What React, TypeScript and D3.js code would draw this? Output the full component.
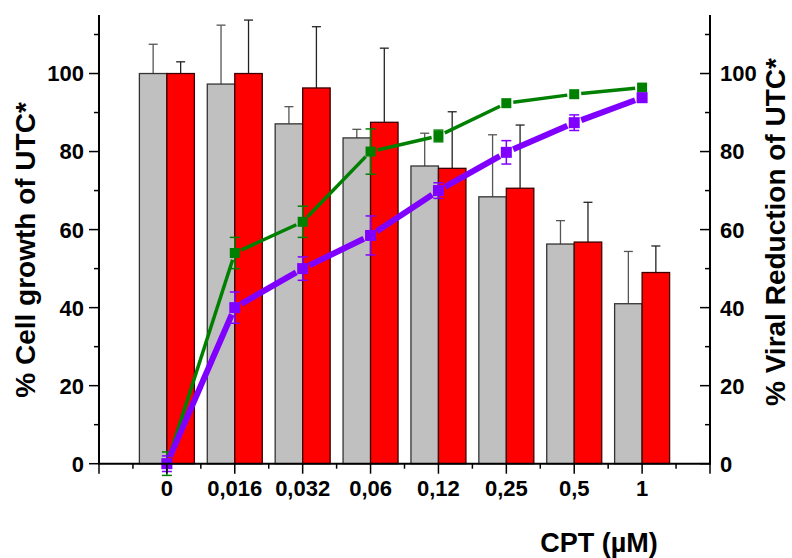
import React from "react";
import * as d3 from "d3";

const categories = ["0", "0,016", "0,032", "0,06", "0,12", "0,25", "0,5", "1"];
const cellGrey = [100, 97.3, 87.1, 83.5, 76.3, 68.4, 56.3, 41];
const cellGreyErr = [7.5, 15.1, 4.4, 2.2, 8.4, 15.9, 6.0, 13.4];
const cellRed = [100, 100, 96.3, 87.5, 75.7, 70.6, 56.8, 49];
const cellRedErr = [3, 13.7, 15.7, 19, 14.5, 16.2, 10.2, 6.8];
const viralGreen = [0, 54, 62, 80, 84, 92.4, 94.7, 96.4];
const viralGreenErr = [3, 4, 4, 5.8, 1.5, 0, 0, 0];
const viralPurple = [0, 40, 50, 58.5, 70, 79.8, 87.4, 93.8];
const viralPurpleErr = [2, 4, 3, 5, 2, 3, 2, 0];
const yTicks = [0, 20, 40, 60, 80, 100];
const yMinorTicks = [10, 30, 50, 70, 90, 110];

const W = 792;
const H = 558;
const FONT = "Liberation Sans, Arial, Helvetica, sans-serif";

export default function App() {
  const x = d3.scaleLinear().domain([-1, 8]).range([99, 710]);
  const y = d3.scaleLinear().domain([0, 115]).range([463.7, 15]);
  const yR = d3.scaleLinear().domain([0, 115]).range([463.7, 15]);
  const unit = x(1) - x(0);
  const bw = unit * 0.405;
  const capW = 9;

  const xMajor = d3.range(-1, 9);
  const xMinor = d3.range(-0.5, 8, 1);

  const lineSeg = (vals: number[], half: number) => {
    const segs: { x1: number; y1: number; x2: number; y2: number }[] = [];
    for (let i = 0; i < vals.length - 1; i++) {
      const ax = x(i), ay = yR(vals[i]), bx = x(i + 1), by = yR(vals[i + 1]);
      const dx = bx - ax, dy = by - ay;
      const L = Math.hypot(dx, dy);
      const g = half + 2;
      segs.push({
        x1: ax + (dx / L) * g,
        y1: ay + (dy / L) * g,
        x2: bx - (dx / L) * g,
        y2: by - (dy / L) * g,
      });
    }
    return segs;
  };

  const renderSeries = (
    vals: number[],
    errs: number[],
    color: string,
    lw: number,
    size: number
  ) => (
    <g>
      {lineSeg(vals, size / 2).map((s, i) => (
        <line key={"l" + i} {...s} stroke={color} strokeWidth={lw} />
      ))}
      {vals.map((v, i) =>
        errs[i] > 0 ? (
          <g key={"e" + i} stroke={color} strokeWidth={1.5}>
            <line x1={x(i)} x2={x(i)} y1={yR(v - errs[i])} y2={yR(v + errs[i])} />
            <line x1={x(i) - 5} x2={x(i) + 5} y1={yR(v - errs[i])} y2={yR(v - errs[i])} />
            <line x1={x(i) - 5} x2={x(i) + 5} y1={yR(v + errs[i])} y2={yR(v + errs[i])} />
          </g>
        ) : null
      )}
      {vals.map((v, i) => (
        <rect
          key={"m" + i}
          x={x(i) - size / 2}
          y={yR(v) - size / 2}
          width={size}
          height={size}
          fill={color}
        />
      ))}
    </g>
  );

  return (
    <svg
      width={W}
      height={H}
      style={{ position: "absolute", left: 0, top: 0, background: "#fff" }}
      fontFamily={FONT}
    >
      <rect width={W} height={H} fill="#fff" />
      {/* bars */}
      {categories.map((c, i) => {
        const cx = x(i);
        const gTop = y(cellGrey[i]);
        const rTop = y(cellRed[i]);
        const gCap = y(cellGrey[i] + cellGreyErr[i]);
        const rCap = y(cellRed[i] + cellRedErr[i]);
        return (
          <g key={c}>
            <line x1={cx - bw / 2} x2={cx - bw / 2} y1={gTop} y2={gCap} stroke="#555" strokeWidth={1.3} />
            <line x1={cx - bw / 2 - capW / 2} x2={cx - bw / 2 + capW / 2} y1={gCap} y2={gCap} stroke="#555" strokeWidth={1.3} />
            <line x1={cx + bw / 2} x2={cx + bw / 2} y1={rTop} y2={rCap} stroke="#222" strokeWidth={1.3} />
            <line x1={cx + bw / 2 - capW / 2} x2={cx + bw / 2 + capW / 2} y1={rCap} y2={rCap} stroke="#222" strokeWidth={1.3} />
            <rect x={cx - bw} y={gTop} width={bw} height={y(0) - gTop} fill="#c0c0c0" stroke="#333" strokeWidth={1.3} />
            <rect x={cx} y={rTop} width={bw} height={y(0) - rTop} fill="#ff0000" stroke="#3a0000" strokeWidth={1.3} />
          </g>
        );
      })}

      {renderSeries(viralGreen, viralGreenErr, "#008000", 3.5, 10)}
      {renderSeries(viralPurple, viralPurpleErr, "#8000ff", 6, 11)}

      {/* left axis */}
      <line x1={99} x2={99} y1={15} y2={y(0)} stroke="#000" strokeWidth={2} />
      {yTicks.map((t) => (
        <g key={"yl" + t}>
          <line x1={89} x2={99} y1={y(t)} y2={y(t)} stroke="#000" strokeWidth={1.5} />
          <text x={84} y={y(t)} dy="0.36em" textAnchor="end" fontSize={22} fontWeight="bold">
            {t}
          </text>
        </g>
      ))}
      {yMinorTicks.map((t) => (
        <line key={"ym" + t} x1={94} x2={99} y1={y(t)} y2={y(t)} stroke="#000" strokeWidth={1.5} />
      ))}

      {/* right axis */}
      <line x1={710} x2={710} y1={15} y2={yR(0)} stroke="#000" strokeWidth={2} />
      {yTicks.map((t) => (
        <g key={"yr" + t}>
          <line x1={700} x2={710} y1={yR(t)} y2={yR(t)} stroke="#000" strokeWidth={1.5} />
          <text x={720} y={yR(t)} dy="0.36em" textAnchor="start" fontSize={22} fontWeight="bold">
            {t}
          </text>
        </g>
      ))}
      {yMinorTicks.map((t) => (
        <line key={"yrm" + t} x1={705} x2={710} y1={yR(t)} y2={yR(t)} stroke="#000" strokeWidth={1.5} />
      ))}

      {/* bottom axis */}
      <line x1={98} x2={711} y1={y(0)} y2={y(0)} stroke="#000" strokeWidth={2} />
      {xMajor.map((t) => (
        <line key={"xm" + t} x1={x(t)} x2={x(t)} y1={y(0)} y2={y(0) + 10} stroke="#000" strokeWidth={1.5} />
      ))}
      {xMinor.map((t) => (
        <line key={"xn" + t} x1={x(t)} x2={x(t)} y1={y(0)} y2={y(0) + 5} stroke="#000" strokeWidth={1.5} />
      ))}
      {categories.map((c, i) => (
        <text key={"xt" + c} x={x(i)} y={496} textAnchor="middle" fontSize={22} fontWeight="bold">
          {c}
        </text>
      ))}

      {/* titles */}
      <text x={599} y={552} textAnchor="middle" fontSize={27} fontWeight="bold">
        CPT (µM)
      </text>
      <text
        transform={`translate(35,250) rotate(-90)`}
        textAnchor="middle"
        fontSize={28}
        fontWeight="bold"
      >
        % Cell growth of UTC*
      </text>
      <text
        transform={`translate(785,232) rotate(-90)`}
        textAnchor="middle"
        fontSize={28}
        fontWeight="bold"
      >
        % Viral Reduction of UTC*
      </text>
    </svg>
  );
}
